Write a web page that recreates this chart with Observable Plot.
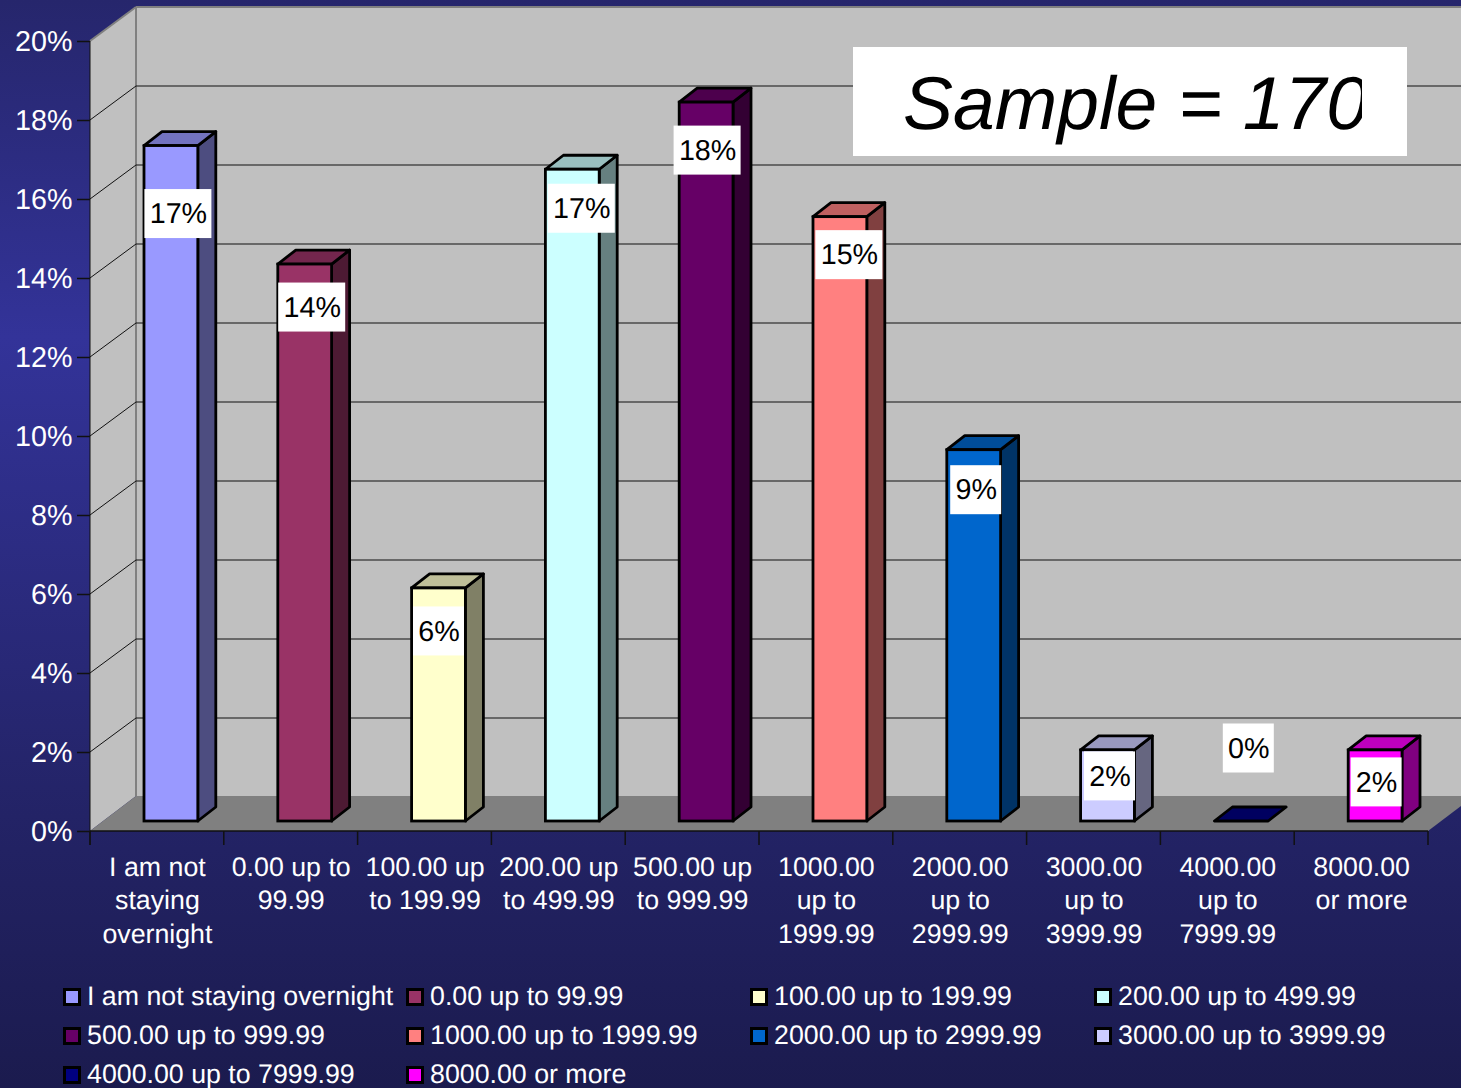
<!DOCTYPE html>
<html>
<head>
<meta charset="utf-8">
<script src="https://cdn.jsdelivr.net/npm/d3@7"></script>
<script src="https://cdn.jsdelivr.net/npm/@observablehq/plot@0.6"></script>
<style>
  html, body { margin: 0; padding: 0; }
  body {
    width: 1461px; height: 1088px; overflow: hidden; position: relative;
    font-family: "Liberation Sans", Arial, sans-serif; color: #fff;
    text-rendering: geometricPrecision;
    background: linear-gradient(to bottom, #26266c 0%, #333399 31%, #232366 75%, #1b1b4e 100%);
  }
  #chart svg { display: block; }
  #sample {
    position: absolute; left: 853px; top: 47px; width: 554px; height: 109px;
    background: #fff; color: #000;
  }
  #sample span {
    position: absolute; left: 50px; top: 11px; width: 459px; height: 90px;
    overflow: hidden; white-space: nowrap; font-style: italic; font-size: 75px; line-height: 90px;
  }
  #legend {
    display: grid; grid-template-columns: 343px 344px 344px auto; grid-auto-rows: 39px;
    padding: 2px 0 0 63px; font-size: 26.75px; height: 111px; overflow: hidden;
  }
  #legend div { display: flex; align-items: center; white-space: nowrap; }
  #legend i { width: 18px; height: 18px; box-sizing: border-box; border: 3px solid #000; margin-right: 6px; flex: none; }
</style>
</head>
<body>
<div id="chart"></div>
<div id="legend"></div>
<div id="sample"><span>Sample = 170</span></div>
<script>
// Spending bands and the share of respondents in each (percent).
const categories = [
  "I am not staying overnight", "0.00 up to 99.99", "100.00 up to 199.99", "200.00 up to 499.99",
  "500.00 up to 999.99", "1000.00 up to 1999.99", "2000.00 up to 2999.99", "3000.00 up to 3999.99",
  "4000.00 up to 7999.99", "8000.00 or more"
];
const axisLabels = [
  "I am not\nstaying\novernight", "0.00 up to\n99.99", "100.00 up\nto 199.99", "200.00 up\nto 499.99",
  "500.00 up\nto 999.99", "1000.00\nup to\n1999.99", "2000.00\nup to\n2999.99", "3000.00\nup to\n3999.99",
  "4000.00\nup to\n7999.99", "8000.00\nor more"
];
const shares = [17.1, 14.1, 5.9, 16.5, 18.2, 15.3, 9.4, 1.8, 0, 1.8];
const colors = ["#9999ff", "#993366", "#ffffcc", "#ccffff", "#660066", "#ff8080", "#0066cc", "#ccccff", "#000080", "#ff00ff"];
const percentTicks = [0, 2, 4, 6, 8, 10, 12, 14, 16, 18, 20];

// Hand-placed data label offsets from each bar's top centre, in pixels.
const labelNudgeX = [7, 7, 0, 9, 1, 9, 2, 2, 7, 1];
const labelNudgeY = [68, 43, 43, 39, 48, 38, 40, 26, -73, 32];

const FONT_SMALL = 26.75, FONT_LARGE = 28.7;
const WALL = {dx: 46, dy: -34};        // depth of the chart box
const BAR = {dx: 18, dy: -14};         // depth of each column
const SEAT = {dx: 14, dy: -10};        // columns sit a little behind the front edge
const INSET = 40;                      // gap between a column and its band edges

const rows = categories.map((name, i) => ({name, share: shares[i], color: colors[i], i}));
const shade = (c, k) => { const r = d3.rgb(c); return d3.rgb(r.r * k, r.g * k, r.b * k).formatHex(); };
const svgEl = tag => document.createElementNS("http://www.w3.org/2000/svg", tag);
const poly = (g, pts, attrs) => {
  const p = g.appendChild(svgEl("polygon"));
  p.setAttribute("points", pts.map(d => d.join(",")).join(" "));
  for (const k in attrs) p.setAttribute(k, attrs[k]);
};
const line = (g, x1, y1, x2, y2, attrs) => {
  const l = g.appendChild(svgEl("line"));
  Object.entries({x1, y1, x2, y2, ...attrs}).forEach(([k, v]) => l.setAttribute(k, v));
};
const bandOf = x => (typeof x.bandwidth === "function" ? x.bandwidth() : x.bandwidth);

// Side wall, back wall, floor and the gridlines that run across them.
function chartBox(index, {x, y}) {
  const g = svgEl("g");
  const [x0, x1] = [x(categories[0]), x(categories[9]) + bandOf(x)];
  const [b, t] = [y(0), y(20)];
  const far = x1 + WALL.dx;
  const back = b + WALL.dy - 1;
  poly(g, [[x0, b], [x0, t], [x0 + WALL.dx, t + WALL.dy], [x0 + WALL.dx, back]], {fill: "#c0c0c0"});
  poly(g, [[x0 + WALL.dx, t + WALL.dy], [far, t + WALL.dy], [far, back], [x0 + WALL.dx, back]], {fill: "#c0c0c0"});
  poly(g, [[x0, b], [x0 + WALL.dx, back], [far, back], [x1, b]], {fill: "#808080"});
  line(g, x0, t, x0 + WALL.dx, t + WALL.dy, {stroke: "#808080", "stroke-width": 2});
  line(g, x0 + WALL.dx, t + WALL.dy, far, t + WALL.dy, {stroke: "#808080", "stroke-width": 2});
  line(g, x0 + WALL.dx, t + WALL.dy, x0 + WALL.dx, back, {stroke: "#808080", "stroke-width": 2});
  for (const p of percentTicks.slice(1, -1)) {
    line(g, x0, y(p), x0 + WALL.dx, y(p) + WALL.dy, {stroke: "#111", "stroke-width": 1});
    line(g, x0 + WALL.dx, y(p) + WALL.dy, far, y(p) + WALL.dy, {stroke: "#111", "stroke-width": 1});
  }
  line(g, x0, t, x0, b + 14, {stroke: "#111", "stroke-width": 1});
  line(g, x0, b, x1, b, {stroke: "#111", "stroke-width": 1.5});
  for (let i = 0; i <= categories.length; i++) {
    const tx = x0 + (x1 - x0) * i / categories.length;
    line(g, tx, b, tx, b + 14, {stroke: "#111", "stroke-width": 1.5});
  }
  return g;
}

// Side and top faces of each column; the front faces are a barY mark.
function columnFaces(index, {x, y}) {
  const g = svgEl("g");
  const edge = {stroke: "#000", "stroke-width": 2.8, "stroke-linejoin": "round"};
  for (const d of rows) {
    const xl = x(d.name) + INSET + SEAT.dx, xr = x(d.name) + bandOf(x) - INSET + SEAT.dx;
    const yt = y(d.share) + SEAT.dy, yb = y(0) + SEAT.dy;
    if (d.share > 0) poly(g, [[xr, yt], [xr + BAR.dx, yt + BAR.dy], [xr + BAR.dx, yb + BAR.dy], [xr, yb]], {fill: shade(d.color, 0.5), ...edge});
    poly(g, [[xl, yt], [xr, yt], [xr + BAR.dx, yt + BAR.dy], [xl + BAR.dx, yt + BAR.dy]], {fill: shade(d.color, 0.75), ...edge});
  }
  return g;
}

// White plates behind the percentage labels.
function labelPlates(index, {x, y}) {
  const g = svgEl("g");
  for (const d of rows) {
    const w = d3.format(".0f")(d.share).length > 1 ? 67 : 51;
    const cx = x(d.name) + bandOf(x) / 2 + SEAT.dx + labelNudgeX[d.i];
    const cy = y(d.share) + SEAT.dy + labelNudgeY[d.i];
    const r = g.appendChild(svgEl("rect"));
    Object.entries({x: cx - w / 2, y: cy - 24.5, width: w, height: 49, fill: "#fff"}).forEach(([k, v]) => r.setAttribute(k, v));
  }
  return g;
}

const chart = Plot.plot({
  width: 1461, height: 975,
  marginLeft: 90, marginRight: 33, marginTop: 41, marginBottom: 144,
  style: {background: "transparent", fontFamily: "'Liberation Sans', Arial, sans-serif", color: "#fff"},
  x: {type: "band", domain: categories, padding: 0, round: false, axis: null},
  y: {type: "linear", domain: [0, 20], axis: null},
  marks: [
    chartBox,
    Plot.axisY({ticks: percentTicks, tickFormat: d => d + "%", tickSize: 13, tickPadding: 5, fontSize: FONT_LARGE, stroke: "#111", strokeWidth: 1.5, fill: "#fff", label: null}),
    Plot.axisX({tickSize: 0, tickPadding: 21, fontSize: FONT_SMALL, lineHeight: 1.245, fill: "#fff", label: null, tickFormat: d => axisLabels[categories.indexOf(d)]}),
    columnFaces,
    Plot.barY(rows, {x: "name", y: "share", fill: "color", stroke: "#000", strokeWidth: 2.8, insetLeft: INSET, insetRight: INSET, dx: SEAT.dx, dy: SEAT.dy}),
    labelPlates,
    ...rows.map(d => Plot.text([d], {
      x: "name", y: "share", text: v => d3.format(".0f")(v.share) + "%", fill: "#000", fontSize: FONT_LARGE,
      dx: SEAT.dx + labelNudgeX[d.i], dy: SEAT.dy + labelNudgeY[d.i]
    }))
  ]
});
document.getElementById("chart").append(chart);

// Colour key under the chart.
const legend = document.getElementById("legend");
for (const d of rows) {
  const item = legend.appendChild(document.createElement("div"));
  const swatch = item.appendChild(document.createElement("i"));
  swatch.style.background = d.color;
  item.appendChild(document.createTextNode(d.name));
}
</script>
</body>
</html>
